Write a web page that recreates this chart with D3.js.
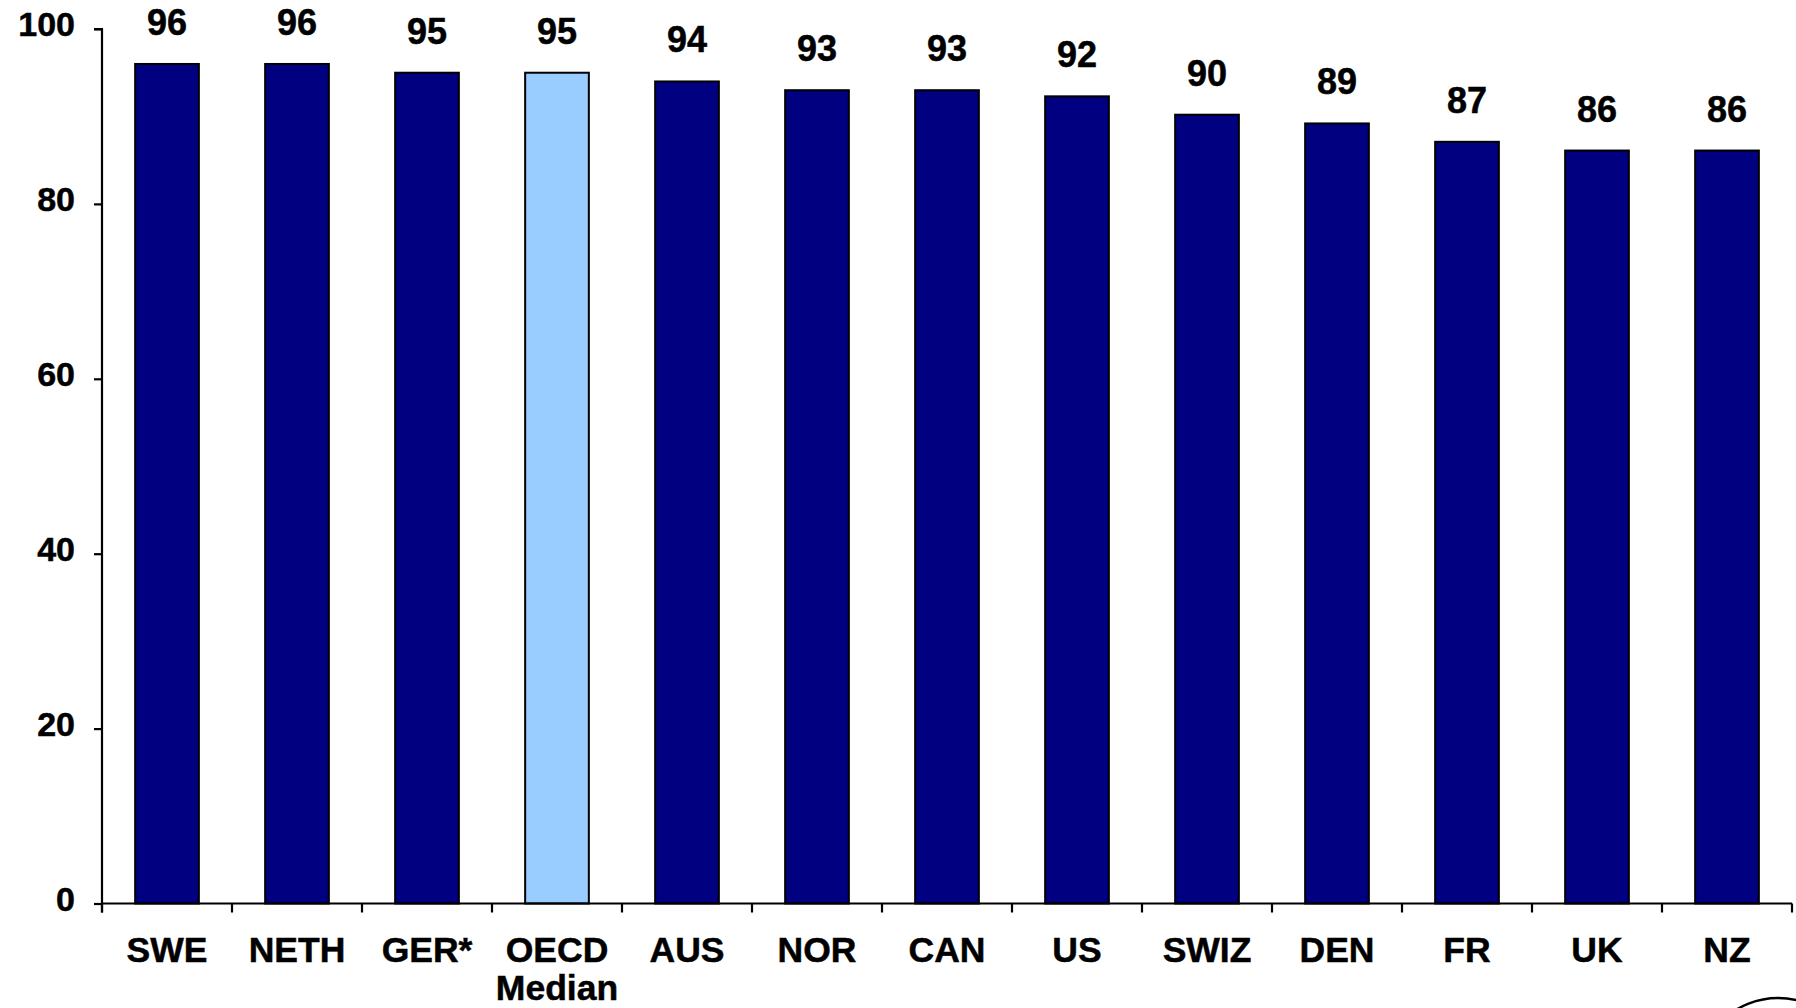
<!DOCTYPE html>
<html>
<head>
<meta charset="utf-8">
<script src="https://cdn.jsdelivr.net/npm/d3@7"></script>
<style>
  html, body { margin: 0; padding: 0; background: #ffffff; }
  svg { display: block; }
  text { font-family: "Liberation Sans", Arial, sans-serif; font-weight: bold; fill: #000; stroke: #000; stroke-width: 0.5px; }
</style>
</head>
<body>
<svg id="chart" width="1796" height="1008"></svg>
<script>
// ---- data ----
const categories = ["SWE", "NETH", "GER*", "OECD\nMedian", "AUS", "NOR", "CAN", "US", "SWIZ", "DEN", "FR", "UK", "NZ"];
const values     = [96, 96, 95, 95, 94, 93, 93, 92.3, 90.2, 89.2, 87.1, 86.1, 86.1];
const highlight  = ["OECD\nMedian"];
const yTicks     = [0, 20, 40, 60, 80, 100];

(function () {
const mLeft = 102, mRight = 1792, mTop = 29, mBottom = 903.5;

const svg = d3.select("#chart");

const x = d3.scaleBand().domain(categories).range([mLeft, mRight]).paddingInner(0.51).paddingOuter(0.255);
const xb = d3.scaleBand().domain(categories).range([mLeft, mRight]).padding(0);
const y = d3.scaleLinear().domain([0, 100]).range([mBottom, mTop]);

// bars
svg.append("g").selectAll("rect")
  .data(categories)
  .join("rect")
  .attr("x", d => x(d))
  .attr("width", x.bandwidth())
  .attr("y", (d, i) => y(values[i]))
  .attr("height", (d, i) => y(0) - y(values[i]))
  .attr("fill", d => highlight.includes(d) ? "#99ccff" : "#000080")
  .attr("stroke", "#000")
  .attr("stroke-width", 2);

// value labels
svg.append("g").selectAll("text")
  .data(categories)
  .join("text")
  .attr("x", d => x(d) + x.bandwidth() / 2)
  .attr("y", (d, i) => y(values[i]) - 29)
  .attr("text-anchor", "middle")
  .style("font-size", "36px")
  .text((d, i) => d3.format(".0f")(values[i]));

// y axis
const yAxis = d3.axisLeft(y).tickValues(yTicks).tickSize(8).tickPadding(19).tickFormat(d3.format("d"));
const gy = svg.append("g").attr("transform", `translate(${mLeft},0)`).call(yAxis);
gy.select(".domain").attr("stroke", "#000").attr("stroke-width", 2.2)
  .attr("d", `M-8,${y(100)}H0V${mBottom + 9}`);
gy.selectAll(".tick line").attr("stroke", "#000").attr("stroke-width", 2.2);
gy.selectAll(".tick text")
  .style("font-size", "34px")
  .style("font-family", "'Liberation Sans', Arial, sans-serif")
  .style("font-weight", "bold")
  .attr("fill", "#000")
  .attr("dy", "0.2em");

// x axis line and boundary ticks
const gx = svg.append("g");
gx.append("line")
  .attr("x1", mLeft).attr("x2", mRight)
  .attr("y1", y(0)).attr("y2", y(0))
  .attr("stroke", "#000").attr("stroke-width", 2.2);
const bounds = categories.map(c => xb(c)).concat([mRight]);
gx.selectAll("line.tk")
  .data(bounds)
  .join("line")
  .attr("class", "tk")
  .attr("x1", d => d).attr("x2", d => d)
  .attr("y1", y(0)).attr("y2", y(0) + 9)
  .attr("stroke", "#000").attr("stroke-width", 2.2);

// category labels
const cl = svg.append("g").selectAll("text")
  .data(categories)
  .join("text")
  .attr("x", d => x(d) + x.bandwidth() / 2)
  .attr("y", y(0) + 58)
  .attr("text-anchor", "middle")
  .style("font-size", "35.5px");
cl.each(function(d) {
  const lines = d.split("\n");
  const t = d3.select(this);
  lines.forEach((ln, i) => {
    t.append("tspan")
      .attr("x", x(d) + x.bandwidth() / 2)
      .attr("dy", i === 0 ? 0 : 38)
      .text(ln);
  });
});

// partial logo circle at bottom right
svg.append("circle")
  .attr("cx", 1778).attr("cy", 1078).attr("r", 80)
  .attr("fill", "none").attr("stroke", "#000").attr("stroke-width", 2.5);
})();
</script>
</body>
</html>
